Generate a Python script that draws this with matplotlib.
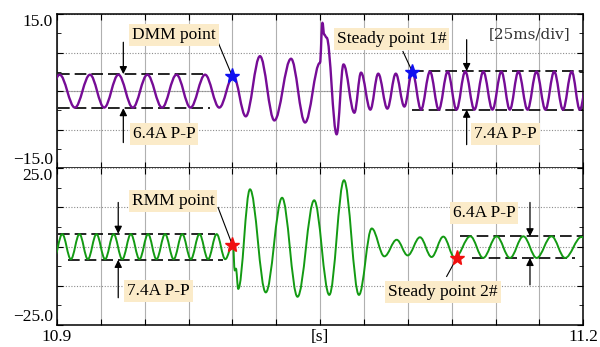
import numpy as np
import matplotlib
matplotlib.use('Agg')
import matplotlib.pyplot as plt
from matplotlib.path import Path
from matplotlib.patches import PathPatch

plt.rcParams['font.family'] = ['Liberation Serif', 'DejaVu Serif']
plt.rcParams['mathtext.default'] = 'regular'

T0 = 10.9  # s, left edge of both panels

# top panel (purple), turning points: ms after T0, A
top_ms = [-6.7, 1.5, 10.2, 18.8, 26.9, 35.0, 43.2, 51.5, 59.9, 68.1, 76.1, 84.4, 92.5, 100.5,
          107.6, 115.7, 123.9, 133.4, 141.4, 149.9, 151.3, 152.3, 153.7, 159.4, 163.3, 169.5,
          173.3, 178.6, 183.1, 188.3, 193.1, 198.0, 202.5, 207.5, 212.6, 217.6, 222.7, 227.7,
          232.7, 237.9, 243.0, 248.2, 253.3, 258.1, 263.0, 268.2, 273.3, 278.4, 283.4, 288.4,
          293.4, 298.0, 303.0]
top_amp = [-3.2, 3.2, -3.2, 3.2, -3.2, 3.2, -3.2, 3.2, -3.2, 3.2, -3.2, 3.2, -3.2, 3.0,
           -4.9, 6.8, -5.7, 6.3, -6.1, 5.5, 13.3, 11.0, 10.4, -8.4, 5.2, -4.2,
           3.6, -3.6, 3.4, -3.4, 3.4, -3.0, 3.8, -3.6, 3.8, -3.6, 3.8, -3.6,
           3.8, -3.6, 3.8, -3.6, 3.8, -3.6, 3.8, -3.6, 3.8, -3.6, 3.8, -3.6,
           3.8, -3.6, 3.8]

# bottom panel (green)
bot_ms = [-1.9, 3.0, 7.9, 12.8, 17.6, 22.5, 27.4, 32.3, 37.2, 42.1, 47.0, 51.9, 56.7, 61.6,
          66.5, 71.4, 76.3, 81.2, 86.1, 91.0, 95.9, 100.3, 101.3, 102.0, 103.3, 110.0, 119.0,
          128.3, 137.1, 146.6, 155.2, 163.6, 172.1, 179.4, 186.6, 193.6, 199.9, 206.9, 213.5,
          220.2, 226.8, 235.6, 242.9, 250.6, 258.2, 265.8, 273.4, 281.9, 289.6, 299.0, 306.0]
bot_amp = [-4.0, 4.0, -4.0, 4.0, -4.0, 4.0, -4.0, 4.0, -4.0, 4.0, -4.0, 4.0, -4.0, 4.0,
           -4.0, 4.0, -4.0, 4.0, -4.0, 4.0, -4.0, 1.0, -7.6, -7.0, -13.5, 18.3, -14.6,
           15.6, -16.0, 14.8, -15.4, 21.2, -15.4, 5.8, -3.1, 2.2, -2.8, 3.0, -3.3,
           3.2, -3.6, 3.3, -3.6, 3.3, -3.6, 3.3, -3.6, 3.3, -3.6, 3.1, -3.6]

# marked points (ms, A)
top_star_ms = [99.9, 202.5]
top_star_amp = [2.9, 3.8]
bot_star_ms = [99.9, 228.0]
bot_star_amp = [0.6, -3.5]

# peak-to-peak guide levels: (start ms, end ms, level A)
top_guides = [(0.6, 86.1, 3.3), (0.6, 87.2, -3.3), (202.4, 300.0, 3.9), (202.4, 300.0, -3.6)]
bot_guides = [(0.6, 90.0, 4.1), (6.3, 94.6, -4.2), (229.7, 300.0, 3.3), (236.4, 295.3, -3.6)]

top_ylabels = ['\u221215.0', '', '', '', '15.0']
bot_ylabels = ['\u221225.0', '', '', '', '25.0']
x_labels = ['10.9', '', '', '', '', '', '[s]', '', '', '', '', '', '11.2']

PURPLE = '#760C96'
GREEN = '#139A13'
BOX = '#FBEBC9'
FS = 12.5


def sec(ms):
    return T0 + np.asarray(ms) / 1000.0


def wave(ax, ms, amp, color, lw):
    # half cycles as cubic Beziers with flat tangents at every turning point
    t = sec(ms)
    verts = [(t[0], amp[0])]
    codes = [Path.MOVETO]
    k = 0.3642
    for i in range(len(t) - 1):
        dt = t[i + 1] - t[i]
        verts += [(t[i] + k * dt, amp[i]), (t[i + 1] - k * dt, amp[i + 1]), (t[i + 1], amp[i + 1])]
        codes += [Path.CURVE4] * 3
    ax.add_patch(PathPatch(Path(verts, codes), fc='none', ec=color, lw=lw,
                           capstyle='round', joinstyle='round', zorder=3))


def label(ax, x_ms, y, s, **kw):
    ax.text(sec(x_ms), y, s, ha='center', va='center', fontsize=FS, zorder=5,
            bbox=dict(boxstyle='square,pad=0.17', fc=BOX, ec='none'), **kw)


def arrow(ax, x_ms, y_tail, y_tip):
    ax.annotate('', xy=(sec(x_ms), y_tip), xytext=(sec(x_ms), y_tail), zorder=6,
                arrowprops=dict(arrowstyle='-|>', color='k', lw=0.9, mutation_scale=11,
                                shrinkA=0, shrinkB=0))


def leader(ax, x0, y0, x1, y1):
    ax.plot(sec([x0, x1]), [y0, y1], color='k', lw=0.8, zorder=4)


def style(ax, lim, ylabels):
    step = lim / 2.0
    ax.set_xlim(T0, T0 + 0.3)
    ax.set_ylim(-lim, lim)
    ax.set_xticks(sec(np.arange(13) * 25.0))
    ax.set_yticks(np.arange(-lim, lim + 0.01, step))
    ax.set_yticks(np.arange(-lim + step / 2, lim, step), minor=True)
    ax.set_yticklabels(ylabels)
    ax.grid(axis='x', color='#b0b0b0', lw=0.8, ls='-')
    ax.grid(axis='y', color='#8c8c8c', lw=0.8, ls=(0, (1, 1.5)))
    ax.tick_params(which='both', direction='in', top=True, right=True, labelsize=FS, pad=3)
    ax.tick_params(which='major', length=4)
    ax.tick_params(which='minor', length=3)
    for sp in ax.spines.values():
        sp.set_linewidth(1.1)
    tl = ax.get_yticklabels()
    tl[0].set_va('bottom')
    tl[-1].set_va('top')


fig = plt.figure(figsize=(6.0, 3.47), dpi=100)
ax1 = fig.add_axes([0.095, 0.515, 0.8772, 0.4447])
ax2 = fig.add_axes([0.095, 0.0634, 0.8772, 0.4516])

# ---- top panel
style(ax1, 15.0, top_ylabels)
ax1.tick_params(labelbottom=False)
ax1.axhline(0, color='#b0b0b0', lw=0.8, zorder=1)
for a, b, lev in top_guides:
    ax1.plot(sec([a, b]), [lev, lev], color='k', lw=1.2, dashes=(7, 3), zorder=2)
wave(ax1, top_ms, top_amp, PURPLE, 1.7)
ax1.plot(sec(top_star_ms), top_star_amp, ls='none', marker='*', ms=11, color='#1010F0', zorder=7)

label(ax1, 66.7, 11.0, 'DMM point')
leader(ax1, 91.8, 9.5, top_star_ms[0], top_star_amp[0])
arrow(ax1, 37.8, 9.5, 3.3)
arrow(ax1, 37.8, -10.0, -3.3)
label(ax1, 61.0, -8.3, '6.4A P-P')

label(ax1, 190.6, 10.2, 'Steady point 1#')
leader(ax1, 197.2, 7.7, top_star_ms[1], top_star_amp[1])
ax1.text(sec(269.3), 11.0, '[25ms/div]', ha='center', va='center', fontsize=11,
         family='DejaVu Serif', color='#333333')
arrow(ax1, 233.5, 10.0, 3.9)
arrow(ax1, 233.5, -10.4, -3.6)
label(ax1, 255.6, -8.4, '7.4A P-P')

# ---- bottom panel
style(ax2, 25.0, bot_ylabels)
ax2.spines['top'].set_visible(False)
ax2.set_xticklabels(x_labels)
for a, b, lev in bot_guides:
    ax2.plot(sec([a, b]), [lev, lev], color='k', lw=1.2, dashes=(7, 3), zorder=2)
wave(ax2, bot_ms, bot_amp, GREEN, 1.4)
ax2.plot(sec(bot_star_ms), bot_star_amp, ls='none', marker='*', ms=11, color='#F01010', zorder=7)

label(ax2, 66.1, 14.7, 'RMM point')
leader(ax2, 91.8, 12.5, bot_star_ms[0], bot_star_amp[0])
arrow(ax2, 34.9, 14.1, 4.1)
arrow(ax2, 34.9, -16.3, -4.2)
label(ax2, 57.9, -14.1, '7.4A P-P')

label(ax2, 243.4, 10.7, '6.4A P-P')
arrow(ax2, 269.6, 14.1, 3.3)
arrow(ax2, 269.6, -12.2, -3.6)
label(ax2, 220.0, -14.4, 'Steady point 2#')
leader(ax2, 222.1, -9.5, bot_star_ms[1], bot_star_amp[1])

fig.savefig('out.png', dpi=100)
